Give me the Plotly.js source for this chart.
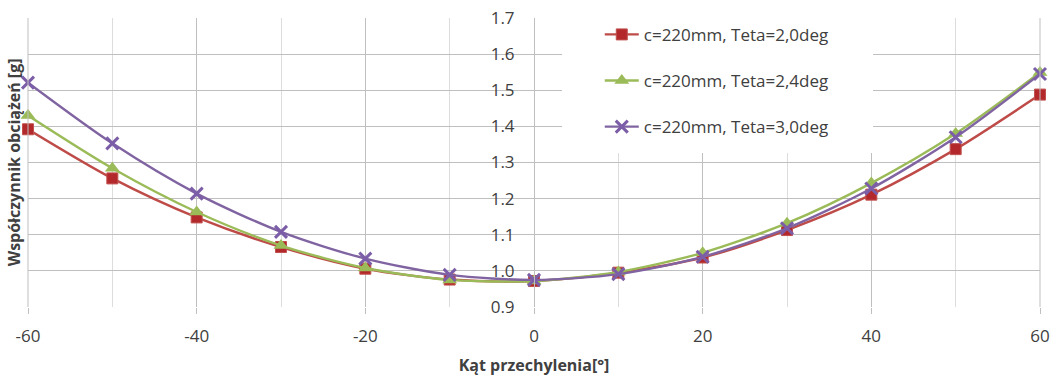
<!DOCTYPE html>
<html><head><meta charset="utf-8">
<script src="https://cdn.plot.ly/plotly-3.0.1.min.js"></script>
<style>html,body{margin:0;padding:0;background:#fff;}#chart{width:1059px;height:376px;}</style>
</head><body><div id="chart"></div>
<script>
const angles = [-60,-50,-40,-30,-20,-10,0,10,20,30,40,50,60];
const teta20 = [1.392,1.256,1.148,1.066,1.006,0.976,0.972,0.995,1.037,1.113,1.211,1.337,1.488];
const teta24 = [1.430,1.284,1.163,1.070,1.008,0.975,0.972,0.997,1.050,1.132,1.243,1.380,1.549];
const teta30 = [1.521,1.353,1.214,1.108,1.034,0.989,0.975,0.991,1.039,1.118,1.228,1.370,1.545];
const names = ["c=220mm, Teta=2,0deg","c=220mm, Teta=2,4deg","c=220mm, Teta=3,0deg"];
const xTickVals = [-60,-40,-20,0,20,40,60];
const xTickText = ["-60","-40","-20","0","20","40","60"];
const yTitle = "Współczynnik obciążeń [g]";
const xTitle = "Kąt przechylenia[°]";

const font = "Open Sans, Noto Sans, sans-serif";
const traces = [
  {x: angles, y: teta20, name: names[0], legendgroup:"a", mode:"lines+markers", cliponaxis:false,
   line:{color:"#BE4B48", width:2.4, shape:"spline", smoothing:0.8},
   marker:{symbol:"square", size:11, color:"#B3292B", line:{color:"#C0504D", width:1}}},
  {x: angles, y: teta24, name: names[1], legendgroup:"b", mode:"lines+markers", cliponaxis:false,
   line:{color:"#9BBB59", width:2.4, shape:"spline", smoothing:0.8},
   marker:{symbol:"triangle-up", size:13, color:"#9BBB59"}},
  {x: angles, y: teta30, name: names[2], legendgroup:"c", mode:"lines+markers", cliponaxis:false,
   line:{color:"#8064A2", width:2.4, shape:"spline", smoothing:0.8},
   marker:{symbol:"x-thin", size:12, color:"#7B5EA7", line:{color:"#7B5EA7", width:3}}}
];

const layout = {
  width:1059, height:376,
  margin:{l:28, r:19, t:18, b:69},
  paper_bgcolor:"#fff", plot_bgcolor:"#fff",
  font:{family:font, color:"#404040"},
  showlegend:true,
  legend:{x:0.565, y:1.004, xanchor:"left", yanchor:"top", bgcolor:"rgba(255,255,255,0)",
    font:{family:font, size:17, color:"#404040"}, tracegroupgap:21, itemwidth:34},
  xaxis:{range:[-60,60], tickvals:xTickVals, ticktext:xTickText, showgrid:true, gridcolor:"#BFBFBF", gridwidth:1,
    zeroline:false, showline:false, ticks:"outside", ticklen:6, tickcolor:"#BFBFBF", ticklabelstandoff:8,
    tickfont:{family:font, size:17, color:"#404040"},
    minor:{dtick:10, showgrid:true, gridcolor:"#DDDDDD", ticks:""},
    title:{text:xTitle, font:{family:font, size:16, color:"#404040", weight:"bold"}, standoff:14}},
  yaxis:{range:[0.9,1.7], dtick:0.1, tick0:0.9, tickformat:".1f", anchor:"free", position:0.5,
    showgrid:true, gridcolor:"#BFBFBF", zeroline:false, showline:true, linecolor:"#BFBFBF",
    ticks:"", ticklabelstandoff:16,
    tickfont:{family:font, size:17, color:"#404040"}},
  annotations:[{text:"<b>"+yTitle+"</b>", xref:"paper", yref:"paper", x:-0.014, y:0.5,
    textangle:-90, showarrow:false, font:{family:font, size:16, color:"#404040"}, xanchor:"center", yanchor:"middle"}],
  shapes:[
    {type:"rect", xref:"paper", yref:"paper", x0:0.5277, x1:0.835, y0:0.533, y1:1.07, layer:"above",
      fillcolor:"#ffffff", line:{width:0}},
    {type:"line", xref:"paper", yref:"paper", x0:0, x1:0, y0:0, y1:1, line:{color:"#BFBFBF", width:1}},
    {type:"line", xref:"paper", yref:"paper", x0:1, x1:1, y0:0, y1:1, line:{color:"#BFBFBF", width:1}}
  ]
};
Plotly.newPlot("chart", traces, layout, {displayModeBar:false, staticPlot:true});
</script></body></html>
